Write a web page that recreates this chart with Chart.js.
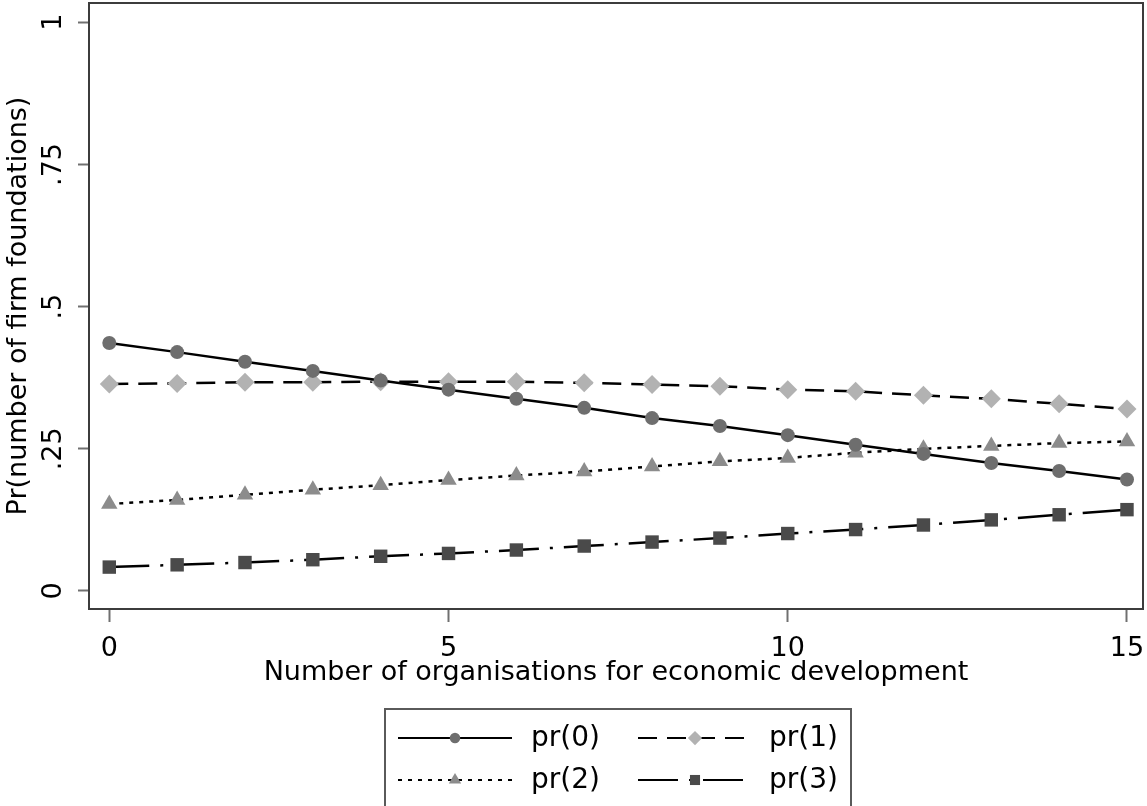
<!DOCTYPE html>
<html>
<head>
<meta charset="utf-8">
<script src="https://cdn.jsdelivr.net/npm/chart.js@4/dist/chart.umd.min.js"></script>
<style>
  html, body { margin: 0; padding: 0; background: #ffffff; }
  canvas { display: block; }
</style>
</head>
<body>
<canvas id="c" width="1147" height="806"></canvas>
<script>
// Number of organisations for economic development
const orgs = [0, 1, 2, 3, 4, 5, 6, 7, 8, 9, 10, 11, 12, 13, 14, 15];

// Predicted probabilities of 0, 1, 2 and 3 firm foundations
const pr0 = [0.436, 0.420, 0.403, 0.387, 0.370, 0.354, 0.338, 0.322, 0.304, 0.290, 0.274, 0.257, 0.241, 0.225, 0.211, 0.196];
const pr1 = [0.364, 0.365, 0.367, 0.367, 0.368, 0.368, 0.368, 0.366, 0.363, 0.360, 0.354, 0.351, 0.344, 0.338, 0.329, 0.320];
const pr2 = [0.153, 0.160, 0.169, 0.178, 0.186, 0.195, 0.203, 0.210, 0.219, 0.228, 0.234, 0.243, 0.250, 0.255, 0.260, 0.263];
const pr3 = [0.042, 0.046, 0.050, 0.055, 0.061, 0.066, 0.072, 0.079, 0.086, 0.093, 0.101, 0.108, 0.116, 0.125, 0.134, 0.143];

const seriesNames = ['pr(0)', 'pr(1)', 'pr(2)', 'pr(3)'];

const xTicks = [0, 5, 10, 15];
const yTicks = [0, 0.25, 0.5, 0.75, 1];
const yTickLabels = ['0', '.25', '.5', '.75', '1'];

const xTitle = 'Number of organisations for economic development';
const yTitle = 'Pr(number of firm foundations)';

const FONT = '"DejaVu Sans", Verdana, sans-serif';

function pts(values) {
  return orgs.map((x, i) => ({ x: x, y: values[i] }));
}

const styles = [
  { pointStyle: 'circle',   radius: 7,   color: '#6e6e6e', dash: [] },
  { pointStyle: 'rectRot',  radius: 9.5, color: '#b2b2b2', dash: [19, 10] },
  { pointStyle: 'triangle', radius: 9.5, color: '#8c8c8c', dash: [4, 6] },
  { pointStyle: 'rect',     radius: 9.5, color: '#4a4a4a', dash: [40, 11, 3, 11] }
];

const seriesValues = [pr0, pr1, pr2, pr3];

const datasets = seriesValues.map((vals, i) => ({
  label: seriesNames[i],
  data: pts(vals),
  borderColor: '#000000',
  borderWidth: 2.5,
  borderDash: styles[i].dash,
  pointStyle: styles[i].pointStyle,
  pointRadius: styles[i].radius,
  pointBackgroundColor: styles[i].color,
  pointBorderColor: styles[i].color,
  pointBorderWidth: 0,
  tension: 0,
  fill: false
}));

// Frame around the plot region and rotated y tick labels
const framePlugin = {
  id: 'frame',
  afterDatasetsDraw(chart) {
    const { ctx, chartArea: a } = chart;
    ctx.save();
    ctx.strokeStyle = '#3c3c3c';
    ctx.lineWidth = 2;
    ctx.strokeRect(a.left, a.top, a.right - a.left, a.bottom - a.top);
    ctx.restore();
  },
  afterDraw(chart) {
    const { ctx } = chart;
    const ys = chart.scales.y;
    ctx.save();
    ctx.fillStyle = '#000000';
    ctx.font = '27px ' + FONT;
    ctx.textAlign = 'center';
    ctx.textBaseline = 'middle';
    yTicks.forEach((v, i) => {
      const py = ys.getPixelForValue(v);
      ctx.save();
      ctx.translate(54, py);
      ctx.rotate(-Math.PI / 2);
      ctx.fillText(yTickLabels[i], 0, 0);
      ctx.restore();
    });
    ctx.restore();
  }
};

// Legend box below the x axis, with line-and-marker samples
const legendPlugin = {
  id: 'boxLegend',
  afterDraw(chart) {
    const { ctx } = chart;
    const box = { left: 385, top: 709, right: 851, bottom: 812 };
    ctx.save();
    ctx.strokeStyle = '#5a5a5a';
    ctx.lineWidth = 2;
    ctx.strokeRect(box.left, box.top, box.right - box.left, box.bottom - box.top);

    const cols = [{ x0: 398, x1: 512, tx: 531 }, { x0: 638, x1: 752, tx: 769 }];
    const rows = [738, 780];
    chart.data.datasets.forEach((ds, i) => {
      const c = cols[i % 2];
      const y = rows[Math.floor(i / 2)];
      ctx.save();
      ctx.strokeStyle = ds.borderColor;
      ctx.lineWidth = 2;
      ctx.setLineDash(ds.borderDash || []);
      ctx.beginPath();
      ctx.moveTo(c.x0, y);
      ctx.lineTo(c.x1, y);
      ctx.stroke();
      ctx.restore();

      ctx.save();
      ctx.fillStyle = ds.pointBackgroundColor;
      ctx.strokeStyle = ds.pointBackgroundColor;
      Chart.helpers.drawPoint(ctx, {
        pointStyle: ds.pointStyle,
        radius: ds.pointRadius * 0.75,
        rotation: 0,
        borderWidth: 0
      }, (c.x0 + c.x1) / 2, y);
      ctx.restore();

      ctx.save();
      ctx.fillStyle = '#000000';
      ctx.font = '28px ' + FONT;
      ctx.textAlign = 'left';
      ctx.textBaseline = 'middle';
      ctx.fillText(ds.label, c.tx, y + 1);
      ctx.restore();
    });
    ctx.restore();
  }
};

new Chart(document.getElementById('c'), {
  type: 'line',
  data: { datasets: datasets },
  options: {
    responsive: false,
    devicePixelRatio: 1,
    animation: false,
    events: [],
    layout: { autoPadding: false, padding: { left: 0, right: 4, top: 3, bottom: 117 } },
    plugins: {
      legend: { display: false },
      tooltip: { enabled: false },
      title: { display: false }
    },
    scales: {
      x: {
        type: 'linear',
        min: -0.299,
        max: 15.236,
        afterBuildTicks(scale) {
          scale.ticks = xTicks.map(v => ({ value: v }));
        },
        afterFit(scale) {
          scale.height = 80;
          scale.paddingLeft = 0;
          scale.paddingRight = 0;
        },
        ticks: {
          color: '#000000',
          font: { family: FONT, size: 27 },
          padding: 11,
          maxRotation: 0,
          minRotation: 0,
          callback: v => String(v)
        },
        grid: {
          drawOnChartArea: false,
          drawTicks: true,
          tickLength: 13,
          tickColor: '#707070',
          tickWidth: 2
        },
        border: { display: false },
        title: {
          display: true,
          text: xTitle,
          color: '#000000',
          font: { family: FONT, size: 27 },
          padding: { top: 0, bottom: 0 }
        }
      },
      y: {
        type: 'linear',
        min: -0.0317,
        max: 1.0339,
        afterBuildTicks(scale) {
          scale.ticks = yTicks.map(v => ({ value: v }));
        },
        afterFit(scale) {
          scale.width = 89;
          scale.paddingTop = 0;
          scale.paddingBottom = 0;
        },
        ticks: { display: false },
        grid: {
          drawOnChartArea: false,
          drawTicks: true,
          tickLength: 11,
          tickColor: '#707070',
          tickWidth: 2
        },
        border: { display: false },
        title: {
          display: true,
          text: yTitle,
          color: '#000000',
          font: { family: FONT, size: 27 },
          padding: { top: 3, bottom: 0 }
        }
      }
    }
  },
  plugins: [framePlugin, legendPlugin]
});
</script>
</body>
</html>
